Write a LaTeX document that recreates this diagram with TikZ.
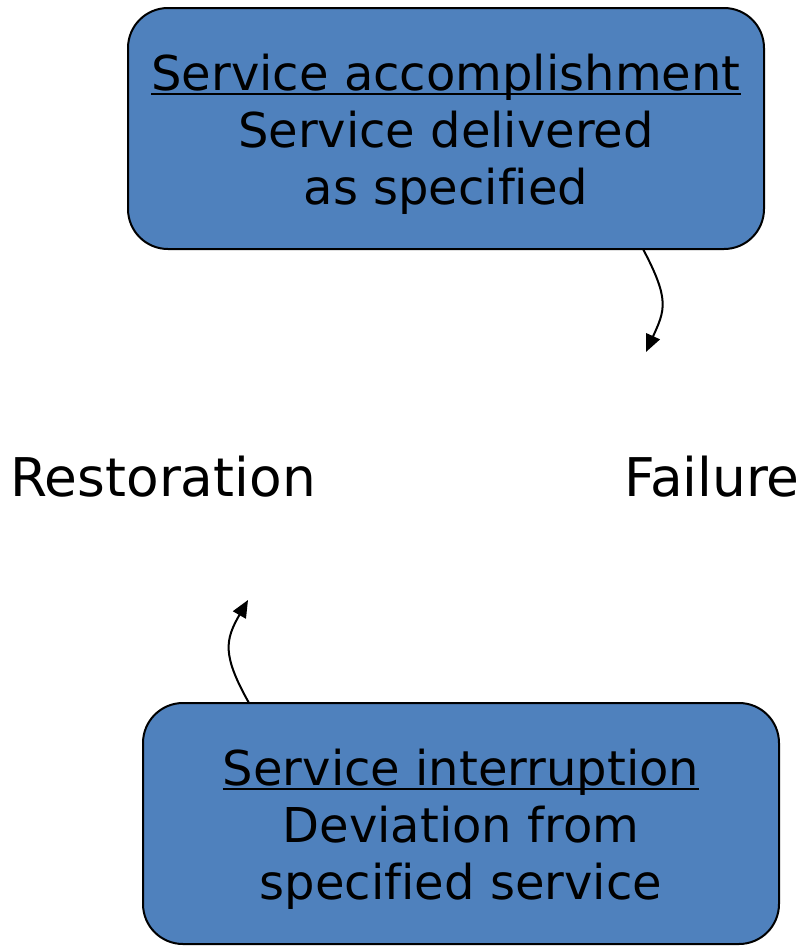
\documentclass[tikz,border=0pt]{standalone}
\usepackage{fontspec}
\setmainfont{DejaVu Sans}[Ligatures=NoCommon]
\usetikzlibrary{arrows.meta}
\definecolor{boxblue}{HTML}{4F81BD}
\newcommand\headline[1]{\setbox0\hbox{#1}\rlap{\rule[-3.2pt]{\wd0}{1.5pt}}\box0}
\tikzset{
  statebox/.style={draw=black, line width=1.5pt, fill=boxblue, rounded corners=30pt},
  boxtext/.style={align=center, font=\fontsize{36pt}{42.75pt}\selectfont, inner sep=0pt},
  label/.style={font=\fontsize{40pt}{48pt}\selectfont, inner sep=0pt, anchor=base},
  trans/.style={line width=1.5pt, -{Triangle[length=13pt,width=11pt]}}
}
\begin{document}
\begin{tikzpicture}[x=0.75pt, y=-0.75pt]
\useasboundingbox (0,0) rectangle (801,947);
% upper state
\draw[statebox] (128,8) rectangle (764,249);
\node[boxtext] (up) at (446,134) {\headline{Service accomplishment}\\Service delivered\\as specified};
\coordinate (upout) at (643,249);
% lower state
\draw[statebox] (143,703) rectangle (779,944);
\node[boxtext] (down) at (461,829) {\headline{Service interruption}\\Deviation from\\specified service};
\coordinate (downout) at (249,703);
% transition labels
\node[label] (fail) at (712,496) {Failure};
\node[label] (rest) at (163,496) {Restoration};
\coordinate (failin) at (646,352);
\coordinate (restin) at (248,600);
% transitions
\draw[trans] (upout) .. controls (670,300) and (665,310) .. (failin);
\draw[trans] (downout) .. controls (222,655) and (225,640) .. (restin);
\end{tikzpicture}
\end{document}
